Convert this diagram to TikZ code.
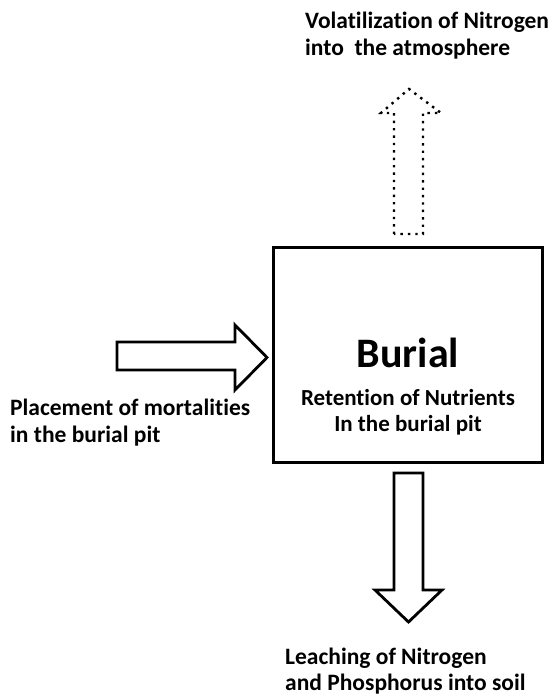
\documentclass[tikz,border=0pt]{standalone}
\usepackage{fontspec}
\setmainfont{Carlito}[Ligatures=NoCommon]
\begin{document}
\begin{tikzpicture}[x=1pt,y=-1pt,
  blockarrow/.style={draw=black,line width=2.8pt,fill=white,line join=miter},
  dottedarrow/.style={draw=black,line width=2.4pt,dash pattern=on 2.4pt off 5pt},
  label/.style={font=\bfseries\fontsize{23.5}{27}\selectfont,align=left,inner sep=0pt},
  boxtext/.style={font=\bfseries\fontsize{23}{26}\selectfont,align=center,inner sep=0pt}]
\useasboundingbox (0,0) rectangle (555,696);

% central box
\node[draw=black,line width=3pt,minimum width=269pt,minimum height=215pt,inner sep=0pt]
  (burial) at (407.5,354.5) {};
\node[font=\bfseries\fontsize{42}{48}\selectfont,inner sep=0pt,anchor=base] (title) at (408,367) {Burial};
\node[boxtext,anchor=north] (retention) at (408,389) {Retention of Nutrients\\In the burial pit};

% inflow arrow (left)
\draw[blockarrow] (117,342) -- (235,342) -- (235,325) -- (267,357.5) -- (235,390)
  -- (235,370) -- (117,370) -- cycle;

% outflow arrow (down)
\draw[blockarrow] (394,473) -- (423,473) -- (423,590) -- (442,590) -- (408.5,622)
  -- (375,590) -- (394,590) -- cycle;

% volatilization arrow (up, dotted)
\draw[dottedarrow] (394,234) -- (394,113) -- (381,113) -- (409,89) -- (441,113)
  -- (423,113) -- (423,234) -- cycle;

% labels
\node[label,anchor=north west] (volat) at (305,12) {Volatilization of Nitrogen\\into\ \ the atmosphere};
\node[label,anchor=north west] (place) at (10,399) {Placement of mortalities\\in the burial pit};
\node[label,anchor=north west,font=\bfseries\fontsize{23.5}{25.5}\selectfont] (leach) at (285,648) {Leaching of Nitrogen\\and Phosphorus into soil};
\end{tikzpicture}
\end{document}
